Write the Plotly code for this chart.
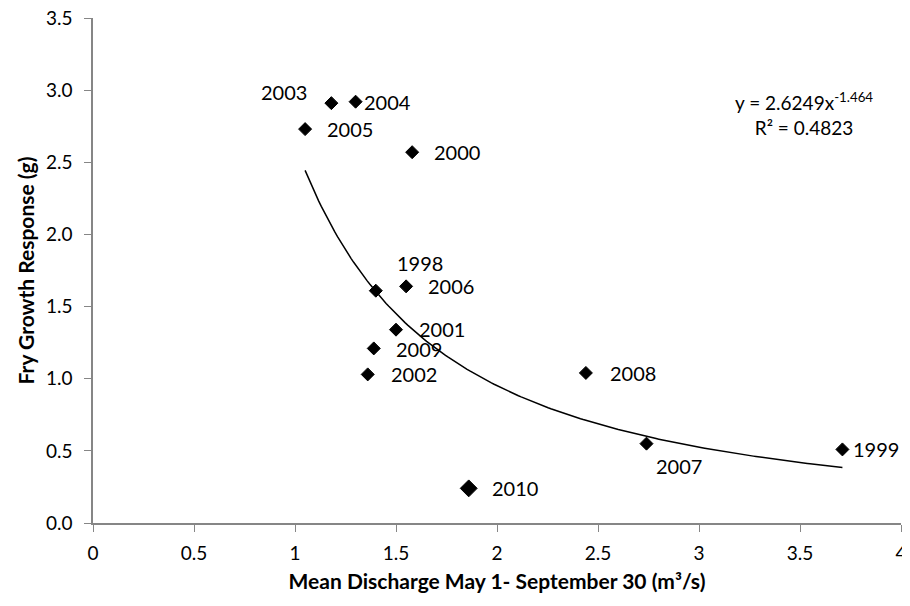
import numpy as np
import plotly.graph_objects as go

years = ["2003", "2004", "2005", "2000", "1998", "2006", "2001", "2009", "2002", "2008", "2007", "1999", "2010"]
discharge = [1.18, 1.30, 1.05, 1.58, 1.40, 1.55, 1.50, 1.39, 1.36, 2.44, 2.74, 3.71, 1.86]
growth = [2.91, 2.92, 2.73, 2.57, 1.61, 1.64, 1.34, 1.21, 1.03, 1.04, 0.55, 0.51, 0.24]
marker_sizes = [10, 10, 10, 10, 10, 10, 10, 10, 10, 10, 10, 10, 13]

# label offsets (pixels) relative to the marker
label_dx = [-22, 6, 20, 20, 19, 20, 21, 20, 21, 22, 8, 9, 21]
label_dy = [11, 0, 0, 0, 28, 0, 1, -1, 0, 0, -22, 0, 0]
label_anchor = ["right", "left", "left", "left", "left", "left", "left", "left", "left", "left", "left", "left", "left"]

# power trendline y = a * x^b
fit_a = 2.6249
fit_b = -1.464
fit_xmin, fit_xmax = 1.05, 3.71

FONT = "Lato, 'Open Sans', sans-serif"
AXIS_COLOR = "#868686"

fig = go.Figure()

xs = np.linspace(fit_xmin, fit_xmax, 200)
fig.add_trace(go.Scatter(x=xs, y=fit_a * xs ** fit_b, mode="lines",
                         line=dict(color="black", width=1.5), hoverinfo="skip", showlegend=False))

fig.add_trace(go.Scatter(x=discharge, y=growth, mode="markers",
                         marker=dict(symbol="diamond", size=marker_sizes, color="black", opacity=1,
                                     line=dict(color="black", width=1)),
                         showlegend=False))

for yr, x, y, dx, dy, anc in zip(years, discharge, growth, label_dx, label_dy, label_anchor):
    fig.add_annotation(x=x, y=y, text=yr, showarrow=False, xanchor=anc, yanchor="middle",
                       xshift=dx, yshift=dy, font=dict(family=FONT, size=20, color="black"))

fig.add_annotation(xref="paper", yref="paper", x=0.880, y=0.81, showarrow=False,
                   text="y = 2.6249x<sup>-1.464</sup><br>R² = 0.4823", align="center",
                   xanchor="center", yanchor="middle",
                   font=dict(family=FONT, size=19, color="black"))

# the page body adds an 8px offset, so margins are shifted to compensate
fig.update_layout(
    width=910, height=606,
    margin=dict(l=85, r=17, t=10, b=91),
    paper_bgcolor="white", plot_bgcolor="white",
    font=dict(family=FONT, size=19, color="black"),
    xaxis=dict(range=[0, 4], tickvals=[0, 0.5, 1, 1.5, 2, 2.5, 3, 3.5, 4],
               ticktext=["0", "0.5", "1", "1.5", "2", "2.5", "3", "3.5", "4"],
               automargin=False, ticklabeloverflow="allow",
               showgrid=False, zeroline=False, showline=True, linecolor=AXIS_COLOR, linewidth=1.5,
               ticks="outside", ticklen=7, tickcolor=AXIS_COLOR, ticklabelstandoff=5,
               title=dict(text="<b>Mean Discharge May 1- September 30 (m³/s)</b>",
                          font=dict(family=FONT, size=21), standoff=12)),
    yaxis=dict(range=[0, 3.5], tickvals=[0, 0.5, 1, 1.5, 2, 2.5, 3, 3.5], tickformat=".1f",
               automargin=False, ticklabeloverflow="allow",
               showgrid=False, zeroline=False, showline=True, linecolor=AXIS_COLOR, linewidth=1.5,
               ticks="outside", ticklen=7, tickcolor=AXIS_COLOR, ticklabelstandoff=8,
               title=dict(text="<b>Fry Growth Response (g)</b>",
                          font=dict(family=FONT, size=21), standoff=6)),
)

fig.write_html("out.html")
